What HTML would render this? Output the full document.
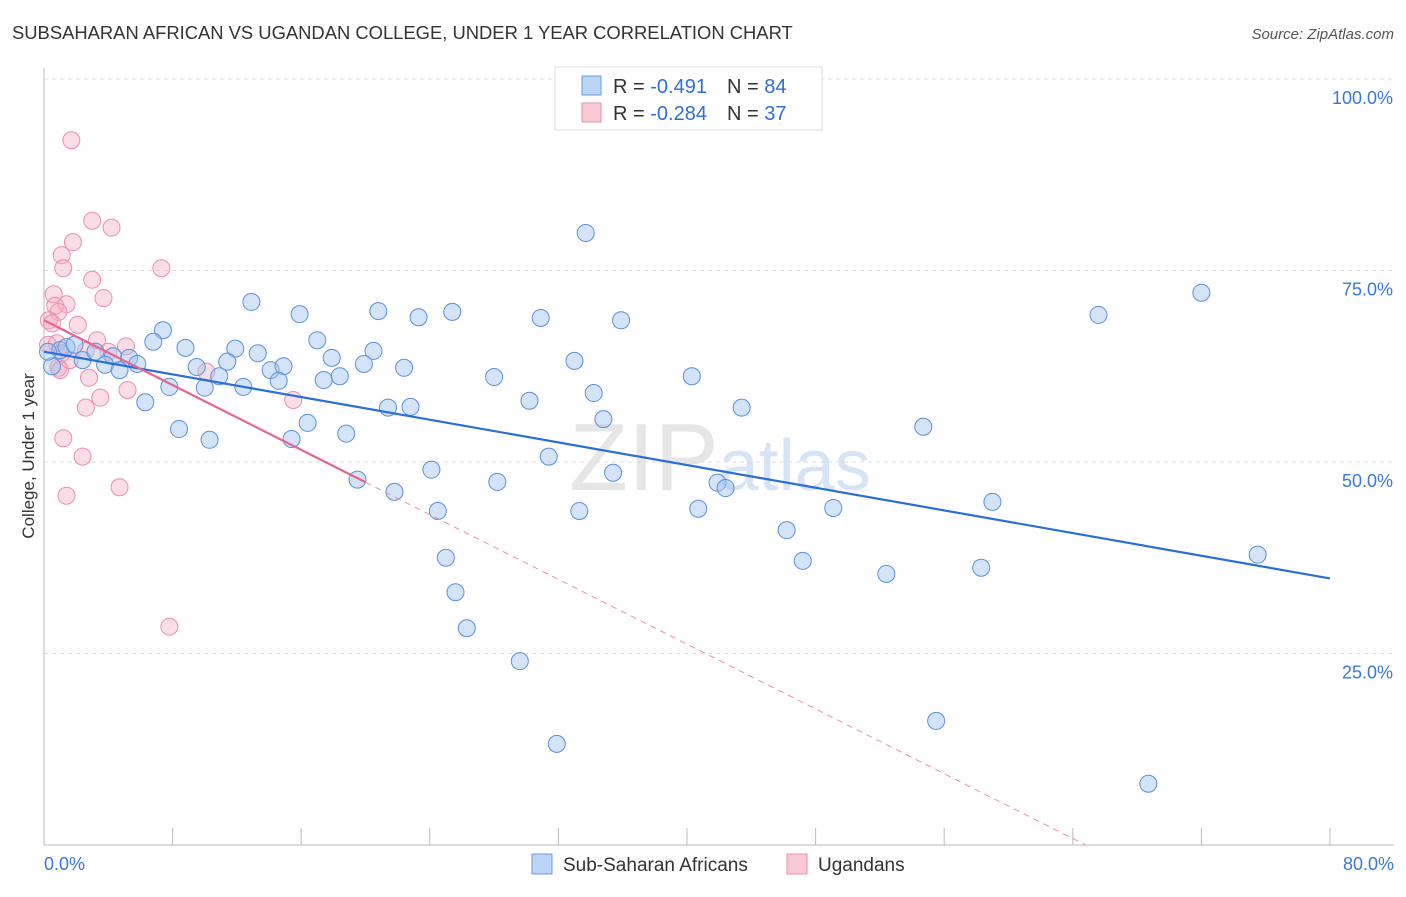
<!DOCTYPE html>
<html><head><meta charset="utf-8"><style>
body{margin:0;background:#fff;font-family:"Liberation Sans",sans-serif;}
svg text{font-family:"Liberation Sans",sans-serif;}
</style></head><body>
<svg id="chart" width="1406" height="892" xmlns="http://www.w3.org/2000/svg">
<text x="12" y="39" font-size="18.4" fill="#333">SUBSAHARAN AFRICAN VS UGANDAN COLLEGE, UNDER 1 YEAR CORRELATION CHART</text>
<text x="1394" y="39" font-size="15" fill="#555" text-anchor="end" font-style="italic">Source: ZipAtlas.com</text>
<text x="720" y="490" font-size="96" fill="#e6e6e6" text-anchor="middle" font-family="Liberation Serif">ZIP<tspan fill="#d6e4f5" font-family="Liberation Sans" font-size="72">atlas</tspan></text>
<g id="grid"></g><g id="axes"></g><g id="pts"></g><g id="trend"></g>
<text transform="translate(34,456) rotate(-90)" font-size="17" fill="#333" text-anchor="middle">College, Under 1 year</text>
<g>
<rect x="555" y="67" width="267" height="63" fill="#fff" stroke="#ddd"/>
<rect x="582" y="76" width="19" height="19" fill="#bcd4f5" stroke="#6a9be0"/>
<rect x="582" y="103" width="19" height="19" fill="#f9c9d6" stroke="#ea8fa9"/>
<text x="613" y="93" font-size="20" fill="#333">R = <tspan fill="#2f6fd1">-0.491</tspan><tspan dx="20">N = </tspan><tspan fill="#2f6fd1">84</tspan></text>
<text x="613" y="120" font-size="20" fill="#333">R = <tspan fill="#2f6fd1">-0.284</tspan><tspan dx="20">N = </tspan><tspan fill="#2f6fd1">37</tspan></text>
</g>
<g>
<rect x="532" y="854" width="20" height="20" fill="#bcd4f5" stroke="#6a9be0"/>
<text x="563" y="871" font-size="19" fill="#333">Sub-Saharan Africans</text>
<rect x="787" y="854" width="20" height="20" fill="#f9c9d6" stroke="#ea8fa9"/>
<text x="818" y="871" font-size="19" fill="#333">Ugandans</text>
</g>
</svg>
<script>
const blueX=[33.7,72.0,65.6,12.9,15.9,20.8,23.3,25.4,30.9,35.9,7.4,17.0,6.8,8.8,11.9,13.3,20.5,17.9,19.9,33.0,4.3,5.3,5.8,9.5,11.4,14.1,14.9,22.4,28.0,40.3,10.9,14.6,17.4,18.4,7.8,10.0,12.4,34.2,6.3,21.4,22.8,30.2,43.4,34.8,16.4,8.4,18.8,10.3,15.4,54.7,31.4,24.1,35.4,19.5,28.2,41.9,42.4,21.8,59.0,24.5,33.3,40.7,49.1,46.2,25.0,47.2,75.5,52.4,58.3,25.6,26.3,29.6,55.5,31.9,68.7,1.0,1.4,2.4,3.2,3.8,4.7,0.5,0.25,1.9];
const blueY=[79.9,72.1,69.2,70.9,69.3,69.7,68.9,69.6,68.8,68.5,67.2,65.9,65.7,64.9,64.8,64.2,64.5,63.6,62.8,63.2,63.8,63.6,62.8,62.4,63.1,62.0,62.5,62.3,61.1,61.2,61.2,60.6,60.7,61.2,59.8,59.7,59.8,59.0,57.8,57.1,57.2,58.0,57.1,55.6,55.1,54.3,53.7,52.9,53.0,54.6,50.7,49.0,48.6,47.7,47.4,47.3,46.6,46.1,44.8,43.6,43.6,43.9,44.0,41.1,37.5,37.1,37.9,35.4,36.2,33.0,28.3,24.0,16.2,13.2,8.0,64.6,65.0,63.3,64.4,62.7,62.0,62.5,64.4,65.3];
const pinkX=[1.7,3.0,4.2,1.8,1.1,1.2,7.3,3.0,3.7,0.6,0.7,1.4,0.9,0.3,2.1,0.5,3.3,0.8,5.1,2.6,1.1,4.0,0.9,10.1,2.8,3.5,5.2,15.5,2.6,1.2,2.4,4.7,1.4,7.8,0.25,1.0,1.6];
const pinkY=[92.0,81.5,80.6,78.7,77.0,75.3,75.3,73.8,71.4,71.9,70.4,70.6,69.6,68.5,67.9,68.1,65.9,65.5,65.1,64.5,64.2,64.4,62.3,61.8,61.0,58.4,59.4,58.1,57.1,53.1,50.7,46.7,45.6,28.5,65.3,62.0,63.3];
const blueTrend=[64.4,34.8];
const pinkTrend=[68.5,-1.057];
const yTicks=[25,50,75,100];
const yTickLabels=["25.0%","50.0%","75.0%","100.0%"];
const xTicks=[0,8,16,24,32,40,48,56,64,72,80];
const NS="http://www.w3.org/2000/svg";
const sx=v=>44+v*(1286/80), sy=v=>845-v*7.66;
function mk(tag,attrs,parent){const e=document.createElementNS(NS,tag);for(const k in attrs)e.setAttribute(k,attrs[k]);parent.appendChild(e);return e;}
const grid=document.getElementById('grid'),axes=document.getElementById('axes'),pts=document.getElementById('pts'),tr=document.getElementById('trend');
yTicks.forEach((t,i)=>{
 const l=mk('line',{x1:44,x2:1394,y1:sy(t),y2:sy(t),stroke:'#ddd','stroke-dasharray':'4,4'},grid);
 
 
 const tx=mk('text',{x:1393,y:sy(t)+25,'font-size':18,fill:'#3a78d6','text-anchor':'end'},axes);
 tx.textContent=yTickLabels[i];
 
 
});
const ax=mk('line',{x1:44,x2:44,y1:68,y2:845,stroke:'#bbb'},axes);


const bx=mk('line',{x1:44,x2:1394,y1:845,y2:845,stroke:'#bbb'},axes);


xTicks.forEach(t=>{const l=mk('line',{x1:sx(t),x2:sx(t),y1:828,y2:845,stroke:'#bbb'},axes);
 
 });
const x0=mk('text',{x:44,y:870,'font-size':18,fill:'#3a78d6'},axes);x0.textContent='0.0%';


const x1=mk('text',{x:1394,y:870,'font-size':18,fill:'#3a78d6','text-anchor':'end'},axes);x1.textContent='80.0%';


pinkX.forEach((x,i)=>{const c=mk('circle',{cx:sx(x),cy:sy(pinkY[i]),r:8.5,fill:'rgba(245,170,195,0.4)',stroke:'#eb8faa','stroke-width':1},pts);
 
 });
blueX.forEach((x,i)=>{const c=mk('circle',{cx:sx(x),cy:sy(blueY[i]),r:8.5,fill:'rgba(160,195,240,0.45)',stroke:'#5b8fdc','stroke-width':1},pts);
 
 });
const bl=mk('line',{x1:sx(0),y1:sy(blueTrend[0]),x2:sx(80),y2:sy(blueTrend[1]),stroke:'#2a6fd6','stroke-width':2.2},tr);


const pe=-pinkTrend[0]/pinkTrend[1];
const pl=mk('line',{x1:sx(0),y1:sy(pinkTrend[0]),x2:sx(20),y2:sy(pinkTrend[0]+pinkTrend[1]*20),stroke:'#e8638e','stroke-width':2.2},tr);


const pd=mk('line',{x1:sx(20),y1:sy(pinkTrend[0]+pinkTrend[1]*20),x2:sx(pe),y2:sy(0),stroke:'#eb8faa','stroke-width':1,'stroke-dasharray':'6,5'},tr);


</script>
</body></html>
